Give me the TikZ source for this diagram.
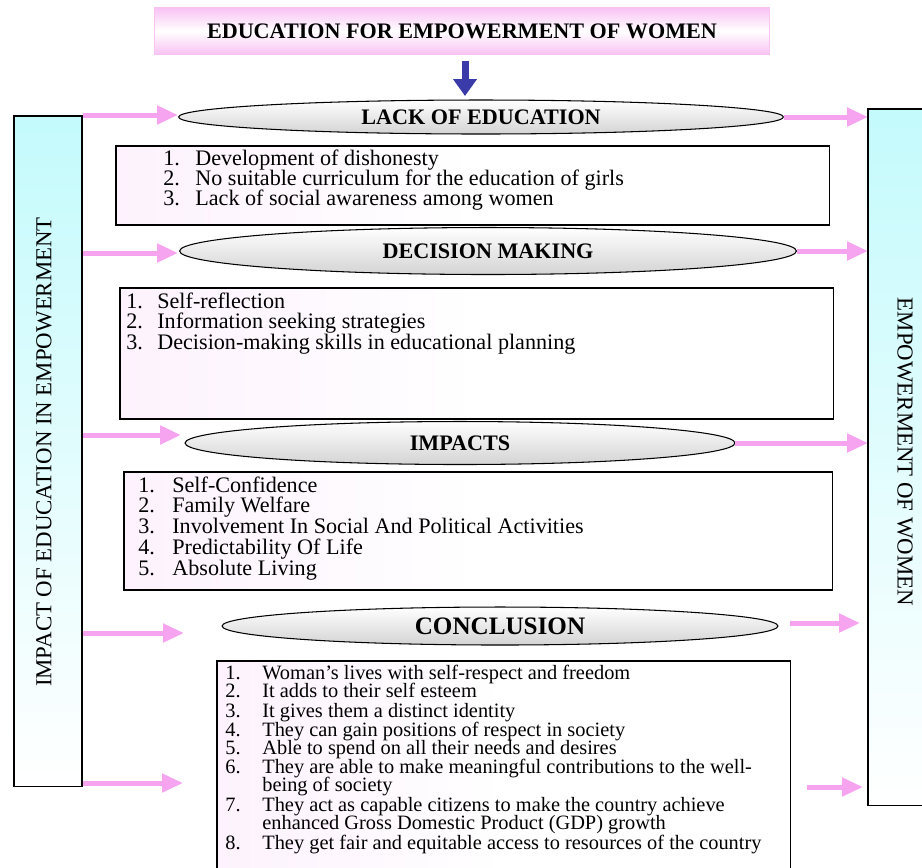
\documentclass[tikz,border=0pt]{standalone}
\usepackage{fontspec}
\setmainfont{Liberation Serif}
\usetikzlibrary{arrows.meta,shapes.geometric,positioning}

\definecolor{flowpink}{RGB}{246,164,240}
\definecolor{titlepink}{RGB}{248,194,243}
\definecolor{panelcyan}{RGB}{196,250,252}
\definecolor{dropblue}{RGB}{58,58,168}
\definecolor{boxpink}{RGB}{253,242,253}

\tikzset{
	headline/.style={ellipse, draw=black, line width=0.6pt, top color=white, bottom color=black!17,
		inner sep=0pt, font=\bfseries\fontsize{12.6}{14}\selectfont},
	itembox/.style={rectangle, draw=black, line width=0.9pt, anchor=north west,
		left color=boxpink, right color=white, middle color=white},
	sidepanel/.style={rectangle, line width=0.9pt, anchor=north west,
		top color=panelcyan, bottom color=white},
	sidelabel/.style={inner sep=0pt, font=\fontsize{13}{15}\selectfont},
	listitem/.style={anchor=base west, inner sep=0pt, font=\fontsize{12.6}{14}\selectfont},
	smallitem/.style={listitem, font=\fontsize{11.6}{13}\selectfont},
	pinkflow/.style={draw=flowpink, line width=0.1cm, -{Triangle[length=0.42cm, width=0.36cm]}},
}

\begin{document}
\begin{tikzpicture}[x=0.02cm, y=-0.02cm]

	% ---- frame

	\useasboundingbox (0,0) rectangle (922,867);

	% ---- title

	\node[rectangle, draw=titlepink, line width=1pt, top color=titlepink, bottom color=titlepink,
		middle color=white, minimum width=12.3cm, minimum height=0.94cm,
		font=\bfseries\fontsize{12.6}{14}\selectfont] (title) at (462,31)
		{EDUCATION FOR EMPOWERMENT OF WOMEN};

	% ---- side panels

	\node[sidepanel, draw=black, minimum width=1.36cm, minimum height=13.42cm] (impact) at (13,115) {};
	\node[sidelabel, rotate=90] (impactlabel) at (44,452) {IMPACT OF EDUCATION IN EMPOWERMENT};

	\node[sidepanel, minimum width=1.08cm, minimum height=13.9cm] (women) at (868,109) {};
	\draw[line width=0.9pt] (women.north east) -- (women.north west) -- (women.south west) -- (women.south east);
	\node[sidelabel, rotate=-90] (womenlabel) at (905,452) {EMPOWERMENT OF WOMEN};

	% ---- headings

	\node[headline, minimum width=12.1cm, minimum height=0.68cm] (lack) at (481,117) {LACK OF EDUCATION};
	\node[headline, minimum width=12.34cm, minimum height=0.94cm] (decision) at (488,251) {DECISION MAKING};
	\node[headline, minimum width=11cm, minimum height=0.86cm] (impacts) at (460,443) {IMPACTS};
	\node[headline, minimum width=11.12cm, minimum height=0.76cm,
		font=\bfseries\fontsize{14.3}{16}\selectfont] (conclusion) at (500,626) {CONCLUSION};

	% ---- boxes

	\node[itembox, minimum width=14.28cm, minimum height=1.58cm] (lackbox) at (115,145) {};
	\node[itembox, minimum width=14.28cm, minimum height=2.62cm] (decisionbox) at (119,287) {};
	\node[itembox, minimum width=14.18cm, minimum height=2.36cm] (impactsbox) at (123,471) {};
	\node[itembox, minimum width=11.48cm, minimum height=4.3cm] (conclusionbox) at (216,660) {};

	% ---- list items

	\foreach \n/\y/\t in {1/160/Development of dishonesty,
		2/180/No suitable curriculum for the education of girls,
		3/200/Lack of social awareness among women} {
		\node[listitem] (lacknum\n) at (163,\y+5) {\n.};
		\node[listitem] (lackitem\n) at (195,\y+5) {\t};
	}

	\foreach \n/\y/\t in {1/303/Self-reflection,
		2/323/Information seeking strategies,
		3/344/Decision-making skills in educational planning} {
		\node[listitem] (decisionnum\n) at (126,\y+5) {\n.};
		\node[listitem] (decisionitem\n) at (157,\y+5) {\t};
	}

	\foreach \n/\y/\t in {1/487/Self-Confidence,
		2/507/Family Welfare,
		3/528/Involvement In Social And Political Activities,
		4/549/Predictability Of Life,
		5/570/Absolute Living} {
		\node[listitem] (impactsnum\n) at (138,\y+5) {\n.};
		\node[listitem] (impactsitem\n) at (172,\y+5) {\t};
	}

	\foreach \n/\y in {1/674, 2/692, 3/712, 4/731, 5/749, 6/768, 7/806, 8/844} {
		\node[smallitem] (conclusionnum\n) at (225,\y+5) {\n.};
	}
	\foreach \i/\y/\t in {1/674/{Woman’s lives with self-respect and freedom},
		2/692/{It adds to their self esteem},
		3/712/{It gives them a distinct identity},
		4/731/{They can gain positions of respect in society},
		5/749/{Able to spend on all their needs and desires},
		6/768/{They are able to make meaningful contributions to the well-},
		7/786/{being of society},
		8/806/{They act as capable citizens to make the country achieve},
		9/824/{enhanced Gross Domestic Product (GDP) growth},
		10/844/{They get fair and equitable access to resources of the country}} {
		\node[smallitem] (conclusionitem\i) at (262,\y+5) {\t};
	}

	% ---- arrow from the title

	\coordinate (drop) at (465,96);
	\draw[dropblue, line width=0.14cm, shorten <=3pt, -{Triangle[length=0.34cm, width=0.46cm]}]
		(title.south -| drop) -- (drop);

	% ---- arrows into the headings

	\coordinate (in1) at (178,115);
	\coordinate (in2) at (178,253);
	\coordinate (in3) at (181,435);
	\coordinate (in4) at (184,633);
	\coordinate (in5) at (183,783);
	\foreach \i in {1,...,5} {
		\draw[pinkflow] (impact.east |- in\i) -- (in\i);
	}

	% ---- arrows into the right panel

	\draw[pinkflow] (lack.east) -- (lack.east -| women.west);
	\draw[pinkflow] (decision.east) -- (decision.east -| women.west);
	\draw[pinkflow] (impacts.east) -- (impacts.east -| women.west);

	\coordinate (out4) at (790,623);
	\coordinate (end4) at (860,623);
	\coordinate (out5) at (807,787);
	\coordinate (end5) at (863,787);
	\draw[pinkflow] (out4) -- (end4);
	\draw[pinkflow] (out5) -- (end5);

\end{tikzpicture}
\end{document}
